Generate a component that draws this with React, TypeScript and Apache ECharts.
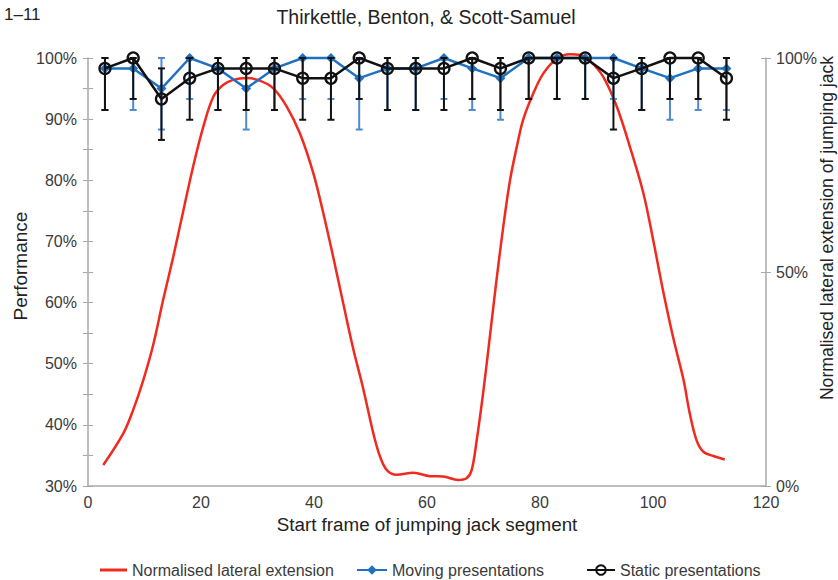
import React, { useEffect, useRef } from "react";
import * as echarts from "echarts";

const frames = [3, 8, 13, 18, 23, 28, 33, 38, 43, 48, 53, 58, 63, 68, 73, 78, 83, 88, 93, 98, 103, 108, 113];

const movingMean = [98.3, 98.3, 95, 100, 98.3, 95, 98.3, 100, 100, 96.7, 98.3, 98.3, 100, 98.3, 96.7, 100, 100, 100, 100, 98.3, 96.7, 98.3, 98.3];
const movingLow = [91.5, 91.5, 88.3, 93.3, 91.5, 88.3, 91.5, 93.3, 93.3, 88.3, 91.5, 91.5, 93.3, 91.5, 89.9, 93.3, 93.3, 93.3, 93.3, 91.5, 89.9, 91.5, 91.5];
const movingHigh = [100, 100, 100, 100, 100, 100, 100, 100, 100, 100, 100, 100, 100, 100, 100, 100, 100, 100, 100, 100, 100, 100, 100];

const staticMean = [98.3, 100, 93.3, 96.7, 98.3, 98.3, 98.3, 96.7, 96.7, 100, 98.3, 98.3, 98.3, 100, 98.3, 100, 100, 100, 96.7, 98.3, 100, 100, 96.7];
const staticLow = [91.5, 93.3, 86.6, 89.9, 91.5, 91.5, 91.5, 89.9, 89.9, 93.3, 91.5, 91.5, 91.5, 93.3, 91.5, 93.3, 93.3, 93.3, 88.3, 91.5, 93.3, 93.3, 89.9];
const staticHigh = [100, 100, 98.3, 100, 100, 100, 100, 100, 100, 100, 100, 100, 100, 100, 100, 100, 100, 100, 100, 100, 100, 100, 100];

const extFrames = [2.7, 6.25, 8.0, 9.8, 11.6, 13.3, 15.1, 16.9, 18.6, 20.4, 22.2, 23.9, 25.7, 28.1, 30.4, 32.8, 35.2, 37.5, 39.9, 41.6, 43.4, 45.2, 46.95, 48.7, 50.5, 51.7, 52.9, 54.6, 57.6, 60.5, 62.9, 65.5, 67.0, 67.9, 68.8, 70.0, 71.2, 72.3, 73.5, 74.7, 75.9, 77.0, 78.8, 80.6, 83.0, 85.3, 87.1, 88.8, 91.2, 93.6, 95.9, 98.3, 100.1, 101.8, 103.6, 105.4, 106.5, 107.7, 108.9, 110.7, 112.7];
const extValues = [4.9, 12.3, 17.8, 24.8, 33.3, 43.5, 53.6, 64.5, 74.6, 83.9, 91.0, 93.7, 94.9, 95.3, 94.7, 92.9, 88.6, 82.4, 73.0, 64.0, 53.5, 42.5, 32.0, 22.8, 12.3, 6.8, 3.7, 2.6, 3.1, 2.3, 2.2, 1.4, 1.8, 3.7, 10.7, 22.4, 35.7, 48.1, 60.6, 71.5, 79.3, 85.5, 91.7, 96.4, 99.9, 100.9, 100.7, 99.4, 95.6, 88.6, 79.3, 68.4, 57.0, 45.5, 34.5, 24.8, 17.0, 10.7, 8.0, 7.0, 6.2];

const xTicks = [0, 20, 40, 60, 80, 100, 120];

const FONT = "'Liberation Sans', Arial, sans-serif";
const AXIS_GREY = "#a9a9a9";
const LABEL = "#3a3a3a";
const RED = "#f02a1e";
const BLUE = "#1f72c2";
const BLUE_ERR = "#4f8ad0";
const BLACK = "#111111";

function errorBars(color: string) {
  return (params: any, api: any) => {
    const x = api.value(0);
    const lo = api.coord([x, api.value(1)]);
    const hi = api.coord([x, api.value(2)]);
    const w = 3.5;
    const style = { stroke: color, lineWidth: 2 };
    return {
      type: "group",
      children: [
        { type: "line", shape: { x1: hi[0], y1: hi[1], x2: lo[0], y2: lo[1] }, style },
        { type: "line", shape: { x1: hi[0] - w, y1: hi[1], x2: hi[0] + w, y2: hi[1] }, style },
        { type: "line", shape: { x1: lo[0] - w, y1: lo[1], x2: lo[0] + w, y2: lo[1] }, style },
      ],
    };
  };
}

export default function App() {
  const ref = useRef<HTMLDivElement>(null);
  useEffect(() => {
    if (!ref.current) return;
    const chart = echarts.init(ref.current, null, { renderer: "svg" });
    const legendText = { color: LABEL, fontSize: 16, fontFamily: FONT, lineHeight: 16 };
    const option: any = {
      animation: false,
      backgroundColor: "#ffffff",
      textStyle: { fontFamily: FONT },
      grid: { left: 88, right: 72, top: 58, bottom: 94, containLabel: false },
      xAxis: {
        type: "value",
        min: xTicks[0],
        max: xTicks[xTicks.length - 1],
        interval: 20,
        axisLine: { show: true, lineStyle: { color: AXIS_GREY, width: 1.5 } },
        axisTick: { show: false },
        axisLabel: { color: LABEL, fontSize: 16, margin: 8, fontFamily: FONT },
        splitLine: { show: false },
      },
      yAxis: [
        {
          type: "value",
          position: "left",
          min: 30,
          max: 100,
          interval: 5,
          axisLine: { show: true, lineStyle: { color: AXIS_GREY, width: 1.5 } },
          axisTick: { show: true, length: 5, lineStyle: { color: AXIS_GREY } },
          axisLabel: {
            color: LABEL,
            fontSize: 16,
            margin: 11,
            fontFamily: FONT,
            formatter: (v: number) => (Math.round(v) % 10 === 0 ? `${Math.round(v)}%` : ""),
          },
          splitLine: { show: false },
        },
        {
          type: "value",
          position: "right",
          min: 0,
          max: 100,
          interval: 50,
          axisLine: { show: true, lineStyle: { color: AXIS_GREY, width: 1.5 } },
          axisTick: { show: true, length: 5, lineStyle: { color: AXIS_GREY } },
          axisLabel: { color: LABEL, fontSize: 16, margin: 10, fontFamily: FONT, formatter: (v: number) => `${v}%` },
          splitLine: { show: false },
        },
        {
          type: "value",
          position: "left",
          min: 30,
          max: 100,
          interval: 5,
          axisLine: { show: false },
          axisTick: { show: true, inside: true, length: 5, lineStyle: { color: AXIS_GREY } },
          axisLabel: { show: false },
          splitLine: { show: false },
        },
        {
          type: "value",
          position: "right",
          min: 0,
          max: 100,
          interval: 50,
          axisLine: { show: false },
          axisTick: { show: true, inside: true, length: 5, lineStyle: { color: AXIS_GREY } },
          axisLabel: { show: false },
          splitLine: { show: false },
        },
      ],
      legend: [
        {
          data: [{ name: "Normalised lateral extension", icon: "rect" }],
          left: 100,
          top: 562,
          padding: 0,
          itemWidth: 27,
          itemHeight: 3,
          itemGap: 4,
          textStyle: legendText,
        },
        {
          data: ["Moving presentations"],
          left: 356,
          top: 562,
          padding: 0,
          itemWidth: 30,
          itemHeight: 12,
          textStyle: legendText,
        },
        {
          data: ["Static presentations"],
          left: 586,
          top: 562,
          padding: 0,
          itemWidth: 28,
          itemHeight: 12,
          textStyle: legendText,
        },
      ],
      graphic: [
        { type: "text", left: 4, top: 6, style: { text: "1–11", fontSize: 17, fill: "#222", fontFamily: FONT } },
        {
          type: "text",
          x: 426,
          y: 17,
          style: { text: "Thirkettle, Benton, & Scott-Samuel", fontSize: 19.5, fill: "#222", fontFamily: FONT, align: "center", verticalAlign: "middle" },
        },
        {
          type: "text",
          x: 20,
          y: 266,
          rotation: Math.PI / 2,
          style: { text: "Performance", fontSize: 19, fill: "#222", fontFamily: FONT, align: "center", verticalAlign: "middle" },
        },
        {
          type: "text",
          x: 427,
          y: 524,
          style: { text: "Start frame of jumping jack segment", fontSize: 18.8, fill: "#222", fontFamily: FONT, align: "center", verticalAlign: "middle" },
        },
        {
          type: "text",
          x: 827,
          y: 228,
          rotation: Math.PI / 2,
          style: { text: "Normalised lateral extension of jumping jack", fontSize: 17.6, fill: "#222", fontFamily: FONT, align: "center", verticalAlign: "middle" },
        },
      ],
      series: [
        {
          name: "Normalised lateral extension",
          type: "line",
          yAxisIndex: 1,
          data: extFrames.map((x, i) => [x, extValues[i]]),
          smooth: 0.35,
          symbol: "none",
          clip: false,
          lineStyle: { color: RED, width: 2.5 },
          itemStyle: { color: RED },
          z: 2,
        },
        {
          name: "movingErr",
          type: "custom",
          yAxisIndex: 0,
          renderItem: errorBars(BLUE_ERR),
          data: frames.map((x, i) => [x, movingLow[i], movingHigh[i]]),
          encode: { x: 0, y: [1, 2] },
          clip: false,
          z: 3,
        },
        {
          name: "Moving presentations",
          type: "line",
          yAxisIndex: 0,
          data: frames.map((x, i) => [x, movingMean[i]]),
          symbol: "diamond",
          symbolSize: 10,
          clip: false,
          lineStyle: { color: BLUE, width: 2.5 },
          itemStyle: { color: BLUE },
          z: 4,
        },
        {
          name: "staticErr",
          type: "custom",
          yAxisIndex: 0,
          renderItem: errorBars(BLACK),
          data: frames.map((x, i) => [x, staticLow[i], staticHigh[i]]),
          encode: { x: 0, y: [1, 2] },
          clip: false,
          z: 5,
        },
        {
          name: "Static presentations",
          type: "line",
          yAxisIndex: 0,
          data: frames.map((x, i) => [x, staticMean[i]]),
          symbol: "circle",
          symbolSize: 11,
          clip: false,
          lineStyle: { color: BLACK, width: 2.5 },
          itemStyle: { color: "rgba(0,0,0,0)", borderColor: BLACK, borderWidth: 2.3 },
          z: 6,
        },
      ],
    };
    chart.setOption(option);
    return () => chart.dispose();
  }, []);
  return <div ref={ref} style={{ position: "fixed", left: 0, top: 0, width: 838, height: 580 }} />;
}
